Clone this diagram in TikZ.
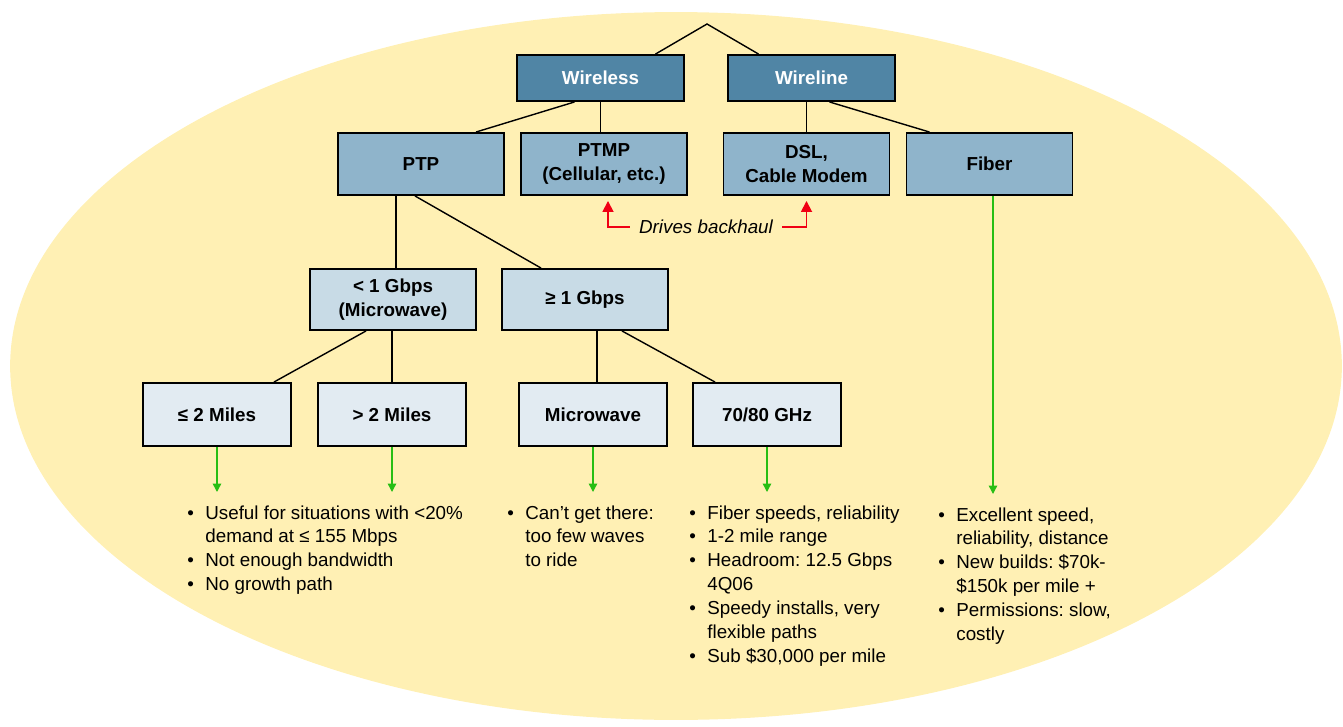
\documentclass[tikz,border=0pt]{standalone}
\usepackage{fontspec}
\setmainfont{Liberation Sans}
\usetikzlibrary{positioning,calc,arrows.meta}

\definecolor{bgyellow}{RGB}{255,240,180}
\definecolor{boxdark}{RGB}{80,133,165}
\definecolor{boxmid}{RGB}{143,180,203}
\definecolor{boxlight}{RGB}{200,219,230}
\definecolor{boxpale}{RGB}{226,235,242}
\definecolor{arrowgreen}{RGB}{40,190,20}
\definecolor{arrowred}{RGB}{240,0,20}

\newcommand{\bl}{\makebox[0.36cm][l]{\textbullet}}

\begin{document}
\begin{tikzpicture}[x=0.02cm, y=-0.02cm,
    box/.style={draw=black, line width=1.1pt, align=center, inner sep=0pt, font=\fontsize{10.7}{13.5}\selectfont\bfseries},
    lvlone/.style={box, fill=boxdark, text=white, minimum width=3.34cm, minimum height=0.92cm},
    lvltwo/.style={box, fill=boxmid, minimum width=3.32cm, minimum height=1.24cm},
    lvlthree/.style={box, fill=boxlight, minimum width=3.32cm, minimum height=1.22cm},
    lvlfour/.style={box, fill=boxpale, minimum width=2.97cm, minimum height=1.26cm},
    link/.style={line width=0.8pt},
    down/.style={arrowgreen, line width=0.8pt, -{Triangle[width=0.17cm,length=0.17cm]}, shorten >=0.2cm},
    back/.style={arrowred, line width=1pt, -{Triangle[width=0.22cm,length=0.22cm]}, shorten >=0.1cm},
    notes/.style={anchor=north west, inner sep=0pt, font=\fontsize{10.7}{13.6}\selectfont\frenchspacing}]
    \useasboundingbox (0,0) rectangle (1343,727);

    % Background
    \fill[bgyellow] (676,366) ellipse [x radius=13.32cm, y radius=7.08cm];

    % Top level
    \coordinate (root) at (707,24);
    \node[lvlone] (wireless) at (600.5,78) {Wireless};
    \node[lvlone] (wireline) at (811.5,78) {Wireline};

    % Second level
    \node[lvltwo] (ptp) at (421,164) {PTP};
    \node[lvltwo] (ptmp) at (604,164) {PTMP\\(Cellular, etc.)};
    \node[lvltwo] (dsl) at (806.5,164) {DSL,\\Cable Modem};
    \node[lvltwo] (fiber) at (989.5,164) {Fiber};

    % PTP split
    \node[lvlthree] (lt1) at (393,299.5) {< 1 Gbps\\(Microwave)};
    \node[lvlthree] (ge1) at (585,299.5) {≥ 1 Gbps};

    \node[lvlfour] (mi2le) at (217,414.5) {≤ 2 Miles};
    \node[lvlfour] (mi2gt) at (392,414.5) {> 2 Miles};
    \node[lvlfour] (micro) at (593,414.5) {Microwave};
    \node[lvlfour] (ghz) at (767,414.5) {70/80 GHz};

    \node[font=\fontsize{10.7}{12}\selectfont\itshape, inner xsep=0.18cm, inner ysep=0pt] (drives) at (706,227) {Drives backhaul};

    % Notes
    \node[notes] (lista) at (187,502) {\begin{tabular}{@{}l@{}l@{}}
        \bl & Useful for situations with <20\% \\
            & demand at ≤ 155 Mbps \\
        \bl & Not enough bandwidth \\
        \bl & No growth path
    \end{tabular}};
    \node[notes] (listb) at (507,502) {\begin{tabular}{@{}l@{}l@{}}
        \bl & Can’t get there: \\
            & too few waves \\
            & to ride
    \end{tabular}};
    \node[notes] (listc) at (689,502) {\begin{tabular}{@{}l@{}l@{}}
        \bl & Fiber speeds, reliability \\
        \bl & 1-2 mile range \\
        \bl & Headroom: 12.5 Gbps \\
            & 4Q06 \\
        \bl & Speedy installs, very \\
            & flexible paths \\
        \bl & Sub \$30,000 per mile
    \end{tabular}};
    \node[notes] (listd) at (938,504) {\begin{tabular}{@{}l@{}l@{}}
        \bl & Excellent speed, \\
            & reliability, distance \\
        \bl & New builds: \$70k- \\
            & \$150k per mile + \\
        \bl & Permissions: slow, \\
            & costly
    \end{tabular}};

    % Tree lines
    \draw[link] ($(wireless.north)+(55,0)$) -- (root) -- ($(wireline.north)+(-53,0)$);
    \draw[link] ($(wireless.south)+(-26,0)$) -- ($(ptp.north)+(55,0)$);
    \draw[link] (wireless.south) -- (wireless.south |- ptmp.north);
    \draw[link] (dsl.north) -- (dsl.north |- wireline.south);
    \draw[link] ($(wireline.south)+(18,0)$) -- ($(fiber.north)+(-60,0)$);
    \draw[link] ($(ptp.south)+(-25,0)$) -- ($(lt1.north)+(3,0)$);
    \draw[link] ($(ptp.south)+(-6,0)$) -- ($(ge1.north)+(-44,0)$);
    \draw[link] ($(lt1.south)+(-27,0)$) -- ($(mi2le.north)+(57,0)$);
    \draw[link] (mi2gt.north) -- (mi2gt.north |- lt1.south);
    \draw[link] ($(ge1.south)+(12,0)$) -- ($(micro.north)+(4,0)$);
    \draw[link] ($(ge1.south)+(37,0)$) -- ($(ghz.north)+(-52,0)$);

    % Backhaul arrows
    \draw[back] (drives.west) -| ($(ptmp.south)+(4,0)$);
    \draw[back] (drives.east) -| (dsl.south);

    % Down arrows
    \coordinate (fibertap) at ($(fiber.south)+(3.5,0)$);
    \draw[down] (mi2le.south) -- (mi2le.south |- lista.north);
    \draw[down] (mi2gt.south) -- (mi2gt.south |- lista.north);
    \draw[down] (micro.south) -- (micro.south |- listb.north);
    \draw[down] (ghz.south) -- (ghz.south |- listc.north);
    \draw[down] (fibertap) -- (fibertap |- listd.north);
\end{tikzpicture}
\end{document}
